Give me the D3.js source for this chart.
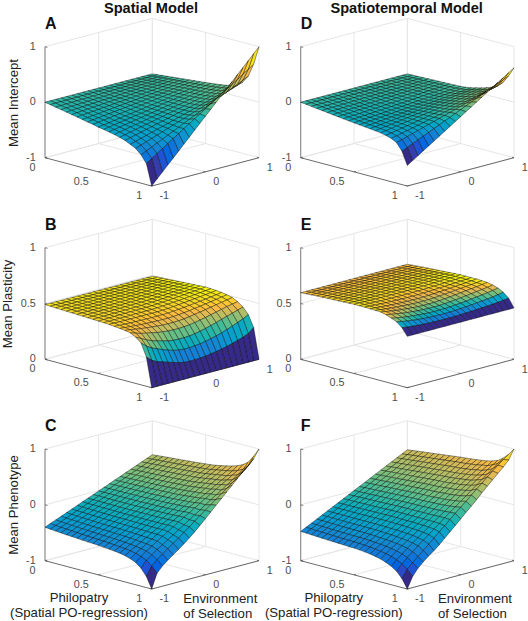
<!DOCTYPE html>
<html><head><meta charset="utf-8">
<script src="https://cdn.jsdelivr.net/npm/d3@7"></script>
<style>html,body{margin:0;padding:0;background:#fff}svg{display:block}text{font-family:"Liberation Sans",Arial,sans-serif}</style>
</head><body><svg id="c" width="528" height="621"></svg>
<script>
const environment=[-1,-.9,-.8,-.7,-.6,-.5,-.4,-.3,-.2,-.1,0,.1,.2,.3,.4,.5,.6,.7,.8,.9,1];
const philopatry=[0,.05,.1,.15,.2,.25,.3,.35,.4,.45,.5,.55,.6,.65,.7,.75,.8,.85,.9,.95,1];
const xTicks=[-1,0,1];
const yTicks=[0,.5,1];
const zTicksSigned=[-1,0,1];
const zTicksUnit=[0,.5,1];
// rows: philopatry 0..1, columns: environment -1..1
const interceptSpatial=[
[0,0,0,0,0,0,0,0,0,0,0,0,0,0,0,0,0,0,0,0,0],
[-.019,-.018,-.016,-.015,-.013,-.012,-.010,-.009,-.007,-.006,-.005,-.003,-.002,0,.001,.003,.004,.006,.007,.009,.010],
[-.038,-.035,-.032,-.029,-.026,-.024,-.021,-.018,-.015,-.012,-.009,-.006,-.003,0,.003,.006,.008,.011,.014,.017,.02],
[-.057,-.053,-.048,-.044,-.040,-.035,-.031,-.027,-.022,-.018,-.014,-.009,-.005,0,.004,.008,.013,.017,.021,.026,.03],
[-.076,-.070,-.064,-.059,-.053,-.047,-.041,-.035,-.030,-.024,-.018,-.012,-.006,0,.005,.011,.017,.023,.029,.034,.04],
[-.095,-.088,-.081,-.073,-.066,-.059,-.051,-.044,-.037,-.030,-.023,-.015,-.008,-.001,.007,.014,.021,.028,.036,.043,.05],
[-.114,-.105,-.097,-.088,-.079,-.071,-.062,-.053,-.044,-.036,-.027,-.018,-.010,-.001,.008,.017,.025,.034,.043,.051,.06],
[-.133,-.123,-.113,-.103,-.092,-.082,-.072,-.062,-.052,-.042,-.032,-.021,-.011,-.001,.009,.019,.029,.040,.050,.060,.07],
[-.152,-.140,-.129,-.117,-.106,-.094,-.082,-.071,-.059,-.048,-.036,-.024,-.013,-.001,.010,.022,.034,.045,.057,.068,.08],
[-.171,-.158,-.145,-.132,-.119,-.106,-.093,-.080,-.067,-.054,-.041,-.027,-.014,-.001,.012,.025,.038,.051,.064,.077,.09],
[-.195,-.180,-.166,-.151,-.136,-.121,-.107,-.092,-.077,-.062,-.048,-.033,-.018,-.003,.012,.026,.041,.056,.071,.085,.10],
[-.21,-.194,-.178,-.162,-.146,-.13,-.114,-.098,-.082,-.066,-.05,-.034,-.018,-.002,.014,.03,.046,.062,.078,.094,.11],
[-.23,-.212,-.195,-.177,-.160,-.142,-.124,-.107,-.089,-.072,-.054,-.036,-.019,-.001,.016,.034,.052,.069,.087,.104,.122],
[-.251,-.232,-.212,-.193,-.174,-.155,-.135,-.116,-.097,-.077,-.058,-.039,-.019,0,.019,.039,.058,.077,.097,.116,.135],
[-.276,-.255,-.233,-.212,-.190,-.169,-.148,-.126,-.105,-.083,-.062,-.041,-.019,.002,.024,.045,.066,.088,.109,.131,.152],
[-.307,-.283,-.259,-.234,-.210,-.186,-.162,-.138,-.113,-.089,-.065,-.041,-.017,.008,.032,.056,.080,.104,.129,.153,.177],
[-.352,-.324,-.295,-.267,-.238,-.210,-.181,-.153,-.124,-.096,-.067,-.039,-.010,.019,.047,.076,.104,.133,.161,.190,.218],
[-.40,-.366,-.331,-.297,-.262,-.228,-.193,-.159,-.124,-.090,-.055,-.021,.014,.049,.083,.118,.152,.187,.221,.256,.29],
[-.49,-.445,-.399,-.354,-.308,-.263,-.217,-.172,-.126,-.081,-.035,.010,.056,.101,.147,.192,.238,.283,.329,.374,.42],
[-.62,-.556,-.492,-.428,-.364,-.30,-.236,-.172,-.108,-.044,.02,.084,.148,.212,.276,.34,.404,.468,.532,.596,.66],
[-1,-.9,-.8,-.7,-.6,-.5,-.4,-.3,-.2,-.1,0,.1,.2,.3,.4,.5,.6,.7,.8,.9,1]];
const interceptTemporal=[
[0,0,0,0,0,0,0,0,0,0,0,0,0,0,0,0,0,0,0,0,0],
[-.012,-.011,-.011,-.010,-.009,-.008,-.008,-.007,-.006,-.005,-.005,-.004,-.003,-.002,-.002,-.001,0,.001,.002,.002,.003],
[-.024,-.023,-.021,-.020,-.018,-.017,-.015,-.014,-.012,-.011,-.009,-.008,-.006,-.005,-.003,-.002,0,.002,.003,.005,.006],
[-.036,-.034,-.032,-.029,-.027,-.025,-.023,-.020,-.018,-.016,-.014,-.011,-.009,-.007,-.005,-.002,0,.002,.005,.007,.009],
[-.048,-.045,-.042,-.039,-.036,-.033,-.03,-.027,-.024,-.021,-.018,-.015,-.012,-.009,-.006,-.003,0,.003,.006,.009,.012],
[-.06,-.056,-.053,-.049,-.045,-.041,-.038,-.034,-.03,-.026,-.023,-.019,-.015,-.011,-.008,-.004,0,.004,.008,.011,.015],
[-.072,-.068,-.063,-.059,-.054,-.05,-.045,-.041,-.036,-.032,-.027,-.023,-.018,-.014,-.009,-.005,0,.005,.009,.014,.018],
[-.083,-.078,-.073,-.067,-.062,-.057,-.052,-.047,-.041,-.036,-.031,-.026,-.021,-.015,-.01,-.005,0,.005,.011,.016,.021],
[-.095,-.089,-.083,-.077,-.071,-.065,-.059,-.053,-.047,-.041,-.036,-.03,-.024,-.018,-.012,-.006,0,.006,.012,.018,.024],
[-.106,-.099,-.093,-.086,-.079,-.073,-.066,-.059,-.053,-.046,-.04,-.033,-.026,-.02,-.013,-.006,0,.007,.014,.02,.027],
[-.117,-.11,-.102,-.095,-.088,-.08,-.073,-.066,-.058,-.051,-.044,-.036,-.029,-.021,-.014,-.007,0,.008,.015,.023,.03],
[-.127,-.119,-.11,-.102,-.094,-.085,-.077,-.069,-.06,-.052,-.044,-.035,-.027,-.018,-.01,-.002,.007,.015,.023,.032,.04],
[-.137,-.127,-.118,-.108,-.098,-.089,-.079,-.07,-.06,-.051,-.041,-.031,-.022,-.012,-.003,.007,.017,.026,.036,.045,.055],
[-.147,-.136,-.124,-.113,-.102,-.09,-.079,-.068,-.056,-.045,-.034,-.022,-.011,.001,.012,.023,.035,.046,.057,.069,.08],
[-.157,-.144,-.131,-.118,-.105,-.092,-.078,-.065,-.052,-.039,-.026,-.013,0,.013,.026,.04,.053,.066,.079,.092,.105],
[-.17,-.155,-.14,-.124,-.109,-.094,-.079,-.063,-.048,-.033,-.018,-.002,.013,.028,.044,.059,.074,.089,.105,.12,.135],
[-.19,-.172,-.154,-.136,-.118,-.1,-.082,-.064,-.046,-.028,-.01,.008,.026,.044,.062,.08,.098,.116,.134,.152,.17],
[-.22,-.198,-.176,-.154,-.132,-.11,-.088,-.066,-.044,-.022,0,.022,.044,.066,.088,.11,.132,.154,.176,.198,.22],
[-.27,-.241,-.212,-.183,-.154,-.125,-.096,-.067,-.038,-.009,.02,.049,.078,.107,.136,.165,.194,.223,.252,.281,.31],
[-.40,-.358,-.315,-.273,-.23,-.188,-.145,-.103,-.06,-.018,.025,.068,.11,.153,.195,.238,.28,.323,.365,.408,.45],
[-.63,-.568,-.505,-.443,-.38,-.318,-.255,-.193,-.13,-.068,-.005,.058,.12,.183,.245,.308,.37,.433,.495,.558,.62]];
const plasticitySpatial=[
[.49,.49,.49,.49,.49,.49,.49,.49,.49,.49,.49,.49,.49,.49,.49,.49,.49,.49,.49,.49,.49],
[.488,.488,.488,.489,.489,.489,.489,.489,.49,.49,.49,.49,.491,.491,.492,.492,.493,.493,.494,.494,.495],
[.486,.487,.487,.488,.488,.488,.489,.489,.489,.49,.49,.491,.491,.492,.493,.494,.494,.495,.496,.497,.498],
[.484,.485,.485,.486,.487,.487,.488,.488,.489,.49,.49,.491,.492,.493,.494,.495,.496,.497,.499,.5,.501],
[.482,.483,.484,.485,.485,.486,.487,.488,.488,.489,.49,.491,.492,.493,.495,.496,.498,.499,.501,.503,.504],
[.48,.481,.482,.483,.484,.485,.486,.487,.488,.489,.49,.491,.492,.494,.496,.498,.5,.502,.503,.505,.507],
[.478,.479,.48,.481,.482,.483,.484,.485,.487,.488,.489,.49,.492,.494,.496,.498,.5,.503,.505,.508,.51],
[.476,.477,.478,.48,.481,.482,.483,.484,.486,.487,.488,.49,.492,.494,.496,.499,.501,.504,.507,.509,.512],
[.474,.475,.477,.478,.479,.481,.482,.483,.484,.485,.486,.488,.49,.493,.496,.499,.502,.505,.508,.512,.515],
[.472,.473,.475,.476,.477,.478,.479,.48,.481,.482,.484,.486,.489,.492,.495,.499,.503,.506,.51,.513,.517],
[.47,.471,.472,.473,.474,.475,.476,.477,.478,.478,.48,.483,.486,.49,.494,.498,.502,.506,.51,.515,.52],
[.468,.468,.468,.469,.469,.47,.471,.471,.472,.472,.474,.477,.481,.485,.489,.493,.498,.503,.508,.513,.518],
[.465,.464,.463,.463,.463,.463,.463,.463,.463,.463,.465,.468,.472,.477,.482,.487,.492,.498,.503,.509,.515],
[.46,.457,.455,.453,.452,.451,.45,.45,.45,.45,.452,.456,.46,.465,.47,.476,.482,.488,.495,.502,.51],
[.455,.45,.446,.442,.439,.436,.434,.433,.432,.432,.434,.438,.443,.449,.456,.463,.47,.478,.486,.494,.502],
[.45,.442,.435,.428,.422,.417,.412,.408,.407,.407,.409,.413,.42,.428,.436,.445,.454,.463,.472,.481,.49],
[.44,.425,.41,.40,.39,.38,.373,.368,.365,.365,.368,.373,.38,.39,.40,.412,.423,.435,.447,.457,.465],
[.415,.39,.365,.345,.33,.318,.305,.297,.295,.295,.298,.305,.315,.327,.34,.355,.37,.385,.40,.415,.43],
[.375,.335,.305,.285,.265,.248,.232,.222,.218,.218,.222,.228,.237,.248,.26,.275,.292,.31,.33,.35,.375],
[.262,.22,.195,.18,.165,.15,.135,.125,.122,.122,.125,.13,.137,.145,.155,.165,.18,.195,.21,.23,.272],
[0,0,0,0,0,0,0,0,0,0,0,0,0,0,0,0,0,0,0,0,0]];
const plasticityTemporal=[
[.597,.597,.597,.597,.597,.597,.597,.597,.597,.597,.597,.597,.597,.597,.597,.597,.597,.597,.597,.597,.597],
[.60,.60,.60,.60,.60,.60,.60,.60,.60,.60,.60,.60,.60,.60,.60,.60,.60,.60,.601,.601,.601],
[.603,.603,.603,.603,.603,.603,.603,.603,.603,.603,.603,.603,.603,.603,.604,.604,.604,.604,.605,.605,.605],
[.606,.606,.606,.606,.606,.606,.606,.606,.606,.606,.606,.606,.607,.607,.607,.607,.608,.608,.608,.608,.609],
[.608,.608,.608,.608,.608,.608,.608,.608,.608,.608,.608,.608,.609,.609,.609,.61,.61,.61,.611,.611,.612],
[.61,.61,.61,.61,.61,.61,.61,.61,.61,.61,.61,.611,.611,.611,.612,.612,.613,.613,.614,.614,.615],
[.612,.612,.612,.612,.612,.612,.612,.612,.612,.612,.612,.613,.613,.614,.614,.615,.615,.616,.617,.617,.618],
[.614,.614,.614,.614,.614,.614,.614,.614,.614,.614,.614,.615,.615,.616,.616,.617,.618,.619,.62,.62,.621],
[.616,.616,.616,.615,.615,.615,.615,.615,.615,.615,.615,.616,.616,.617,.618,.619,.62,.621,.622,.623,.624],
[.618,.618,.617,.617,.616,.616,.616,.615,.615,.615,.616,.616,.617,.618,.619,.621,.622,.623,.625,.626,.627],
[.62,.619,.618,.617,.616,.616,.615,.615,.614,.614,.615,.615,.616,.618,.619,.621,.623,.625,.627,.628,.63],
[.62,.618,.616,.615,.613,.612,.611,.611,.61,.61,.611,.612,.613,.615,.617,.619,.621,.624,.626,.628,.63],
[.62,.616,.613,.611,.609,.607,.606,.605,.604,.604,.605,.606,.608,.61,.613,.615,.618,.621,.624,.627,.63],
[.618,.613,.609,.605,.602,.6,.598,.596,.595,.595,.596,.598,.601,.604,.607,.611,.615,.618,.622,.626,.63],
[.617,.61,.604,.599,.595,.592,.589,.586,.585,.585,.586,.588,.592,.596,.6,.605,.61,.614,.618,.623,.628],
[.615,.606,.598,.591,.586,.581,.577,.574,.572,.572,.573,.576,.58,.585,.59,.596,.602,.607,.612,.619,.625],
[.603,.594,.586,.578,.572,.567,.563,.56,.558,.558,.559,.562,.566,.571,.576,.582,.588,.594,.60,.607,.615],
[.585,.575,.567,.56,.555,.55,.546,.543,.542,.542,.543,.546,.55,.554,.559,.565,.571,.577,.584,.591,.60],
[.565,.555,.547,.54,.535,.531,.528,.525,.524,.524,.525,.527,.53,.534,.538,.543,.548,.553,.559,.566,.575],
[.525,.518,.512,.508,.505,.503,.501,.50,.499,.499,.50,.502,.504,.506,.509,.512,.515,.519,.523,.528,.535],
[.46,.46,.46,.46,.46,.46,.46,.46,.46,.46,.46,.46,.46,.46,.46,.46,.46,.46,.46,.46,.46]];
const phenotypeSpatial=[
[-.40,-.36,-.321,-.282,-.242,-.203,-.163,-.124,-.084,-.045,-.005,.035,.074,.114,.153,.193,.232,.272,.311,.351,.39],
[-.41,-.37,-.329,-.289,-.248,-.208,-.167,-.127,-.086,-.046,-.005,.036,.076,.117,.157,.198,.238,.279,.319,.36,.40],
[-.418,-.377,-.335,-.294,-.252,-.211,-.17,-.128,-.087,-.045,-.004,.037,.079,.12,.162,.203,.244,.286,.327,.369,.41],
[-.426,-.384,-.342,-.299,-.257,-.215,-.173,-.131,-.088,-.046,-.004,.038,.08,.123,.165,.207,.249,.291,.334,.376,.418],
[-.434,-.391,-.348,-.305,-.262,-.219,-.176,-.133,-.09,-.047,-.004,.039,.082,.125,.168,.211,.254,.297,.34,.383,.426],
[-.44,-.396,-.353,-.309,-.265,-.222,-.178,-.134,-.09,-.047,-.003,.041,.084,.128,.172,.215,.259,.303,.347,.39,.434],
[-.447,-.403,-.358,-.314,-.269,-.225,-.18,-.136,-.091,-.047,-.002,.043,.087,.132,.176,.221,.265,.31,.354,.399,.443],
[-.454,-.409,-.363,-.318,-.273,-.228,-.182,-.137,-.092,-.046,-.001,.044,.09,.135,.18,.226,.271,.316,.361,.407,.452],
[-.46,-.414,-.368,-.322,-.276,-.23,-.184,-.138,-.092,-.046,0,.046,.092,.138,.184,.23,.276,.322,.368,.414,.46],
[-.465,-.418,-.372,-.325,-.278,-.231,-.185,-.138,-.091,-.044,.003,.049,.096,.143,.19,.236,.283,.33,.377,.423,.47],
[-.47,-.423,-.375,-.328,-.28,-.233,-.185,-.138,-.09,-.043,.005,.053,.10,.148,.195,.243,.29,.338,.385,.433,.48],
[-.478,-.43,-.381,-.333,-.284,-.236,-.187,-.139,-.09,-.042,.006,.054,.103,.151,.2,.248,.297,.345,.394,.442,.49],
[-.486,-.437,-.388,-.338,-.289,-.239,-.19,-.14,-.09,-.041,.009,.059,.108,.158,.208,.257,.307,.356,.406,.455,.505],
[-.497,-.446,-.395,-.344,-.293,-.242,-.191,-.139,-.088,-.037,.014,.065,.116,.167,.218,.269,.32,.371,.423,.474,.525],
[-.51,-.457,-.404,-.352,-.299,-.246,-.193,-.141,-.088,-.035,.018,.07,.123,.176,.229,.281,.334,.387,.44,.492,.545],
[-.53,-.47,-.415,-.36,-.305,-.25,-.195,-.14,-.085,-.03,.02,.075,.13,.185,.24,.295,.35,.40,.455,.51,.57],
[-.56,-.49,-.43,-.37,-.31,-.25,-.19,-.135,-.08,-.025,.03,.085,.14,.195,.25,.305,.36,.415,.47,.53,.60],
[-.60,-.52,-.45,-.385,-.32,-.26,-.20,-.14,-.08,-.02,.035,.095,.155,.215,.27,.33,.39,.445,.505,.565,.645],
[-.68,-.56,-.49,-.42,-.36,-.295,-.235,-.17,-.105,-.04,.02,.085,.15,.215,.28,.34,.405,.47,.535,.605,.715],
[-.80,-.64,-.55,-.475,-.405,-.335,-.265,-.19,-.115,-.04,.035,.105,.18,.25,.325,.395,.47,.545,.62,.70,.845],
[-1,-.745,-.64,-.56,-.49,-.42,-.345,-.265,-.18,-.09,.005,.10,.195,.29,.385,.48,.575,.665,.755,.85,1]];
const phenotypeTemporal=[
[-.475,-.427,-.38,-.332,-.284,-.236,-.189,-.141,-.093,-.045,.003,.05,.098,.146,.194,.241,.289,.337,.385,.432,.48],
[-.48,-.431,-.383,-.334,-.286,-.237,-.188,-.14,-.091,-.043,.006,.055,.103,.152,.2,.249,.298,.346,.395,.443,.492],
[-.485,-.436,-.386,-.337,-.287,-.238,-.188,-.139,-.089,-.04,.01,.059,.108,.158,.207,.257,.306,.356,.405,.455,.504],
[-.49,-.44,-.389,-.339,-.289,-.239,-.188,-.138,-.088,-.037,.013,.063,.114,.164,.214,.265,.315,.365,.415,.466,.516],
[-.495,-.444,-.393,-.341,-.29,-.239,-.188,-.137,-.086,-.035,.017,.068,.119,.17,.221,.272,.323,.374,.426,.477,.528],
[-.5,-.448,-.396,-.344,-.292,-.24,-.188,-.136,-.084,-.032,.02,.072,.124,.176,.228,.28,.332,.384,.436,.488,.54],
[-.504,-.451,-.398,-.346,-.293,-.24,-.187,-.134,-.082,-.029,.024,.077,.13,.182,.235,.288,.341,.394,.446,.499,.552],
[-.508,-.454,-.401,-.347,-.294,-.24,-.186,-.133,-.079,-.026,.028,.082,.135,.189,.242,.296,.35,.403,.457,.51,.564],
[-.512,-.458,-.403,-.349,-.294,-.24,-.186,-.131,-.077,-.022,.032,.086,.141,.195,.25,.304,.358,.413,.467,.522,.576],
[-.516,-.461,-.406,-.35,-.295,-.24,-.185,-.13,-.074,-.019,.036,.091,.146,.202,.257,.312,.367,.422,.478,.533,.588],
[-.52,-.464,-.408,-.352,-.296,-.24,-.184,-.128,-.072,-.016,.04,.096,.152,.208,.264,.32,.376,.432,.488,.544,.60],
[-.527,-.47,-.413,-.356,-.299,-.243,-.186,-.129,-.072,-.015,.042,.099,.156,.212,.269,.326,.383,.44,.497,.553,.61],
[-.537,-.479,-.421,-.363,-.306,-.248,-.19,-.132,-.074,-.016,.042,.099,.157,.215,.273,.331,.389,.447,.504,.562,.62],
[-.55,-.488,-.428,-.369,-.31,-.25,-.191,-.132,-.073,-.014,.045,.104,.163,.222,.281,.34,.399,.458,.517,.576,.632],
[-.568,-.503,-.44,-.378,-.317,-.255,-.194,-.133,-.072,-.011,.05,.111,.172,.233,.294,.355,.414,.472,.53,.588,.645],
[-.59,-.52,-.452,-.388,-.325,-.262,-.2,-.137,-.075,-.012,.05,.112,.175,.237,.3,.362,.425,.487,.55,.61,.66],
[-.625,-.545,-.472,-.403,-.336,-.27,-.205,-.14,-.075,-.01,.055,.12,.185,.25,.315,.38,.44,.505,.565,.625,.685],
[-.67,-.58,-.5,-.425,-.355,-.285,-.215,-.145,-.075,-.005,.06,.13,.2,.265,.335,.40,.47,.535,.60,.665,.72],
[-.735,-.625,-.54,-.46,-.38,-.305,-.23,-.155,-.08,-.005,.07,.14,.215,.285,.36,.43,.505,.575,.645,.715,.79],
[-.84,-.70,-.605,-.52,-.435,-.35,-.265,-.18,-.095,-.01,.075,.16,.24,.325,.41,.49,.575,.655,.735,.81,.88],
[-1,-.80,-.68,-.59,-.51,-.44,-.36,-.27,-.18,-.09,0,.09,.18,.27,.37,.46,.55,.64,.73,.83,1]];
const parula=[[.2081,.1663,.5292],[.2116,.1898,.5777],[.2123,.2138,.627],[.2081,.2386,.6771],[.1959,.2645,.7279],[.1707,.2919,.7792],[.1253,.3242,.8303],[.0591,.3598,.8683],[.0117,.3875,.882],[.006,.4086,.8828],[.0165,.4266,.8786],[.0329,.443,.872],[.0498,.4586,.8641],[.0629,.4737,.8554],[.0723,.4887,.8467],[.0779,.504,.8384],[.0793,.52,.8312],[.0749,.5375,.8263],[.0641,.557,.824],[.0488,.5772,.8228],[.0343,.5966,.8199],[.0265,.6137,.8135],[.0239,.6287,.8038],[.0231,.6418,.7913],[.0228,.6535,.7768],[.0267,.6642,.7607],[.0384,.6743,.7436],[.059,.6838,.7254],[.0843,.6928,.7062],[.1133,.7015,.6859],[.1453,.7098,.6646],[.1801,.7177,.6424],[.2178,.725,.6193],[.2586,.7317,.5954],[.3022,.7376,.5712],[.3482,.7424,.5473],[.3953,.7459,.5244],[.442,.7481,.5033],[.4871,.7491,.484],[.53,.7491,.4661],[.5709,.7485,.4494],[.6099,.7473,.4337],[.6473,.7456,.4188],[.6834,.7435,.4044],[.7184,.7411,.3905],[.7525,.7384,.3768],[.7858,.7356,.3633],[.8185,.7327,.3498],[.8507,.7299,.336],[.8824,.7274,.3217],[.9139,.7258,.3063],[.945,.7261,.2886],[.9739,.7314,.2666],[.9938,.7455,.2403],[.999,.7653,.2164],[.9955,.7861,.1967],[.988,.8066,.1794],[.9789,.8271,.1633],[.9697,.8481,.1475],[.9626,.8705,.1309],[.9589,.8949,.1132],[.9598,.9218,.0948],[.9661,.9514,.0755],[.9763,.9831,.0538]]
 .map(c=>d3.rgb(c[0]*255,c[1]*255,c[2]*255).formatHex());

const columns=[{left:45,front:151.7,right:259,philoX:79,envX:183.3},{left:300.7,front:407.3,right:514,philoX:333.8,envX:438}];
const rows=[{top:46.7,bottom:157.7,frontBottom:186},{top:247.7,bottom:359.3,frontBottom:387.7},{top:449,bottom:560.7,frontBottom:589}];
const panels=[
 {letter:"A",c:0,r:0,z:interceptSpatial,dom:[-1,1],zt:zTicksSigned,label:"Mean Intercept",lx:13,ly:103,ty:29},
 {letter:"B",c:0,r:1,z:plasticitySpatial,dom:[0,1],zt:zTicksUnit,label:"Mean Plasticity",lx:7,ly:304,ty:229.7},
 {letter:"C",c:0,r:2,z:phenotypeSpatial,dom:[-1,1],zt:zTicksSigned,label:"Mean Phenotype",lx:13,ly:505,ty:430.7},
 {letter:"D",c:1,r:0,z:interceptTemporal,dom:[-1,1],zt:zTicksSigned,ty:29},
 {letter:"E",c:1,r:1,z:plasticityTemporal,dom:[0,1],zt:zTicksUnit,ty:229.7},
 {letter:"F",c:1,r:2,z:phenotypeTemporal,dom:[-1,1],zt:zTicksSigned,ty:430.7}];

const svg=d3.select("#c");
const tickFill="#4d4d4d",gridCol="#e6e6e6",axisCol="#5a5a5a";
function seg(g,a,b,col,w){g.append("line").attr("x1",a[0]).attr("y1",a[1]).attr("x2",b[0]).attr("y2",b[1]).attr("stroke",col).attr("stroke-width",w);}
panels.forEach(p=>{
 const C=columns[p.c],R=rows[p.r],g=svg.append("g");
 const depth=R.frontBottom-R.bottom;
 const xP=d3.scaleLinear().domain([0,1]).range([C.left,C.front]);
 const xE=d3.scaleLinear().domain([-1,1]).range([0,C.right-C.front]);
 const yP=d3.scaleLinear().domain([0,1]).range([R.bottom,R.frontBottom]);
 const yE=d3.scaleLinear().domain([-1,1]).range([0,-depth]);
 const yZ=d3.scaleLinear().domain(p.dom).range([0,R.top-R.bottom]);
 const pt=(e,ph,z)=>[xP(ph)+xE(e),yP(ph)+yE(e)+yZ(z)];
 const [z0,z1]=p.dom,[e0,e1]=[environment[0],environment[environment.length-1]],[p0,p1]=[philopatry[0],philopatry[philopatry.length-1]];
 // walls and floor
 p.zt.forEach(t=>{seg(g,pt(e0,p0,t),pt(e1,p0,t),gridCol,1);seg(g,pt(e1,p0,t),pt(e1,p1,t),gridCol,1);});
 [e0,xTicks[1],e1].forEach(e=>{seg(g,pt(e,p0,z0),pt(e,p0,z1),gridCol,1);});
 [p0,yTicks[1],p1].forEach(ph=>{seg(g,pt(e1,ph,z0),pt(e1,ph,z1),gridCol,1);seg(g,pt(e0,ph,z0),pt(e1,ph,z0),gridCol,1);});
 seg(g,pt(xTicks[1],p0,z0),pt(xTicks[1],p1,z0),gridCol,1);
 // axis lines
 seg(g,pt(e0,p0,z0),pt(e0,p0,z1),"#8a8a8a",1.1);
 seg(g,pt(e0,p0,z0),pt(e0,p1,z0),axisCol,.9);
 seg(g,pt(e0,p1,z0),pt(e1,p1,z0),axisCol,.9);
 // tick marks
 p.zt.forEach(t=>{const a=pt(e0,p0,t);seg(g,a,[a[0]+2.5,a[1]+.6],axisCol,.8);});
 yTicks.forEach(t=>{const a=pt(e0,t,z0);seg(g,a,[a[0]+2,a[1]-.55],axisCol,.8);});
 xTicks.forEach(t=>{const a=pt(t,p1,z0);seg(g,a,[a[0]-2,a[1]-.55],axisCol,.8);});
 // surface, painted from the far corner to the near corner
 const all=p.z.flat();
 const color=d3.scaleQuantize().domain(d3.extent(all)).range(parula);
 const faces=[];
 for(let i=environment.length-2;i>=0;i--)for(let j=0;j<philopatry.length-1;j++){
  const a=environment[i],b=environment[i+1],u=philopatry[j],v=philopatry[j+1];
  faces.push({pts:[pt(a,u,p.z[j][i]),pt(b,u,p.z[j][i+1]),pt(b,v,p.z[j+1][i+1]),pt(a,v,p.z[j+1][i])],v:p.z[j+1][i]});
 }
 g.append("g").selectAll("polygon").data(faces).join("polygon")
  .attr("points",d=>d.pts.map(q=>q[0].toFixed(2)+","+q[1].toFixed(2)).join(" "))
  .attr("fill",d=>color(d.v)).attr("stroke","#000").attr("stroke-width",.4).attr("stroke-linejoin","round");
 // tick labels
 const lab=(x,y,s,anchor)=>g.append("text").attr("x",x).attr("y",y).attr("text-anchor",anchor).attr("dominant-baseline","central").attr("font-size",10.8).attr("fill",tickFill).text(s);
 p.zt.forEach(t=>{const a=pt(e0,p0,t);lab(a[0]-9.3,a[1]-1,String(t),"end");});
 yTicks.forEach(t=>{const a=pt(e0,t,z0);lab(a[0]-9.5,a[1]+8.8,String(t),"end");});
 xTicks.forEach(t=>{const a=pt(t,p1,z0);lab(a[0]+7.8,a[1]+9.2,String(t),"start");});
 // panel letter
 g.append("text").attr("x",C.left).attr("y",p.ty).attr("font-size",16).attr("font-weight","bold").attr("fill","#111").text(p.letter);
 if(p.label)g.append("text").attr("transform",`translate(${p.lx+4.5},${p.ly}) rotate(-90)`).attr("text-anchor","middle").attr("font-size",13.2).attr("fill","#222").text(p.label);
 if(p.r===2){
  const t=(x,y,s,a)=>g.append("text").attr("x",x).attr("y",y).attr("text-anchor",a).attr("font-size",13.2).attr("fill","#222").text(s);
  t(C.philoX,602,"Philopatry","middle");
  t(C.philoX,616.7,"(Spatial PO-regression)","middle");
  t(C.envX,603,"Environment","start");
  t(C.envX,617.5,"of Selection","start");
 }
});
const title=(x,s)=>svg.append("text").attr("x",x).attr("y",12.7).attr("text-anchor","middle").attr("font-size",14.6).attr("font-weight","bold").attr("fill","#111").text(s);
title(151,"Spatial Model");
title(406.7,"Spatiotemporal Model");
</script></body></html>
